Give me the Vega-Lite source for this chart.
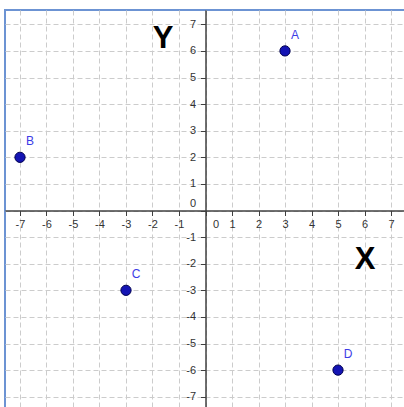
{
  "$schema": "https://vega.github.io/schema/vega-lite/v6.json",
  "width": 401,
  "height": 400,
  "autosize": {"type": "none"},
  "padding": {"left": 5, "top": 10, "right": 0, "bottom": 0},
  "background": "white",
  "config": {
    "view": {"stroke": "#6c93d3", "strokeWidth": 2},
    "font": "Liberation Sans"
  },
  "datasets": {
    "points": [
      {"label": "A", "x": 3, "y": 6},
      {"label": "B", "x": -7, "y": 2},
      {"label": "C", "x": -3, "y": -3},
      {"label": "D", "x": 5, "y": -6}
    ],
    "names": [
      {"name": "Y", "x": -1.6, "y": 6.45},
      {"name": "X", "x": 6.02, "y": -1.86}
    ]
  },
  "encoding": {
    "x": {
      "field": "x", "type": "quantitative",
      "scale": {"domain": [-7.566, 7.566], "nice": false, "zero": false},
      "axis": {
        "title": null,
        "values": [-7, -6, -5, -4, -3, -2, -1, 0, 1, 2, 3, 4, 5, 6, 7],
        "labelExpr": "'' + datum.value",
        "offset": -199.5,
        "grid": true, "gridColor": "#cccccc", "gridDash": [5, 3], "gridWidth": 1,
        "domainColor": "#404040", "domainWidth": 1.5,
        "tickColor": "#404040", "tickSize": 5, "tickWidth": 1,
        "labelFontSize": 11, "labelColor": "#333333", "labelPadding": 3,
        "labelFlush": false, "labelOverlap": false,
        "labelOffset": {"condition": {"test": "datum.value === 0", "value": 10}, "value": 0}
      }
    },
    "y": {
      "field": "y", "type": "quantitative",
      "scale": {"domain": [-7.5, 7.538], "nice": false, "zero": false},
      "axis": {
        "title": null,
        "values": [-7, -6, -5, -4, -3, -2, -1, 0, 1, 2, 3, 4, 5, 6, 7],
        "labelExpr": "'' + datum.value",
        "offset": -200.5,
        "grid": true, "gridColor": "#cccccc", "gridDash": [5, 3], "gridWidth": 1,
        "domainColor": "#404040", "domainWidth": 1.5,
        "tickColor": "#404040", "tickSize": 5, "tickWidth": 1,
        "labelFontSize": 11, "labelColor": "#333333", "labelPadding": 5,
        "labelFlush": false, "labelOverlap": false,
        "labelOffset": {"condition": {"test": "datum.value === 0", "value": -7}, "value": 0}
      }
    }
  },
  "layer": [
    {
      "data": {"name": "points"},
      "mark": {"type": "circle", "size": 105, "opacity": 1, "fill": "#1414b4", "stroke": "#000050", "strokeWidth": 1}
    },
    {
      "data": {"name": "points"},
      "mark": {"type": "text", "dx": 10, "dy": -16, "fontSize": 12, "color": "#3c3ce6", "align": "center", "baseline": "middle"},
      "encoding": {"text": {"field": "label"}}
    },
    {
      "data": {"name": "names"},
      "mark": {"type": "text", "fontSize": 31, "fontWeight": "bold", "color": "#000000", "align": "center", "baseline": "middle"},
      "encoding": {"text": {"field": "name"}}
    }
  ]
}
